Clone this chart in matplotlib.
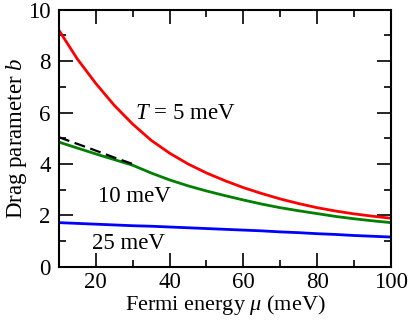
import matplotlib
matplotlib.use("Agg")
import matplotlib.pyplot as plt
from matplotlib.ticker import MultipleLocator

# Daten
mu = [10, 15, 20, 25, 30, 35, 40, 45, 50, 55, 60, 65, 70, 75, 80, 85, 90, 95, 100]
b_5mev = [9.20, 8.08, 7.13, 6.28, 5.55, 4.92, 4.42, 4.00, 3.65, 3.35, 3.08,
          2.85, 2.64, 2.46, 2.30, 2.17, 2.06, 1.97, 1.89]
b_10mev = [4.85, 4.62, 4.39, 4.17, 3.95, 3.65, 3.38, 3.15, 2.95, 2.77, 2.60,
           2.44, 2.30, 2.18, 2.07, 1.96, 1.87, 1.79, 1.72]
b_25mev = [1.72, 1.69, 1.66, 1.63, 1.60, 1.58, 1.55, 1.52, 1.49, 1.46, 1.43,
           1.40, 1.36, 1.33, 1.29, 1.26, 1.22, 1.19, 1.16]
mu_dash = [10, 15, 20, 25, 30]
b_dash = [5.04, 4.78, 4.52, 4.25, 4.00]

plt.rcParams["font.family"] = "Liberation Serif"
plt.rcParams["mathtext.fontset"] = "custom"
plt.rcParams["mathtext.it"] = "Liberation Serif:italic"
plt.rcParams["mathtext.rm"] = "Liberation Serif"

fs = 16.5

fig = plt.figure(figsize=(4.09, 3.2), dpi=100)
ax = fig.add_axes([0.144, 0.166, 0.812, 0.804])

ax.plot(mu, b_5mev, color="red", linewidth=2)
ax.plot(mu, b_10mev, color="green", linewidth=2)
ax.plot(mu, b_25mev, color="blue", linewidth=2)
ax.plot(mu_dash, b_dash, color="black", linewidth=1.6, linestyle=(0, (5, 2.5)))

ax.set_xlim(10, 100)
ax.set_ylim(0, 10)
ax.xaxis.set_major_locator(MultipleLocator(20))
ax.xaxis.set_minor_locator(MultipleLocator(10))
ax.yaxis.set_major_locator(MultipleLocator(2))
ax.yaxis.set_minor_locator(MultipleLocator(1))
ax.tick_params(which="both", direction="in", top=True, right=True,
               labelsize=fs, width=1.2, pad=6)
ax.tick_params(axis="x", which="both", pad=4)
ax.tick_params(which="major", length=10)
ax.tick_params(which="minor", length=5)
for s in ax.spines.values():
    s.set_linewidth(1.5)

ax.set_xlabel(r"Fermi energy $\mu$ (meV)", fontsize=16, labelpad=-0.5)
ax.set_ylabel(r"Drag parameter $b$", fontsize=fs, labelpad=-1)

ax.text(30.5, 5.95, r"$T$ = 5 meV", fontsize=fs, va="center", ha="left")
ax.text(20.5, 2.75, "10 meV", fontsize=fs, va="center", ha="left")
ax.text(19.0, 0.9, "25 meV", fontsize=fs, va="center", ha="left")

fig.savefig("out.png", dpi=100)
